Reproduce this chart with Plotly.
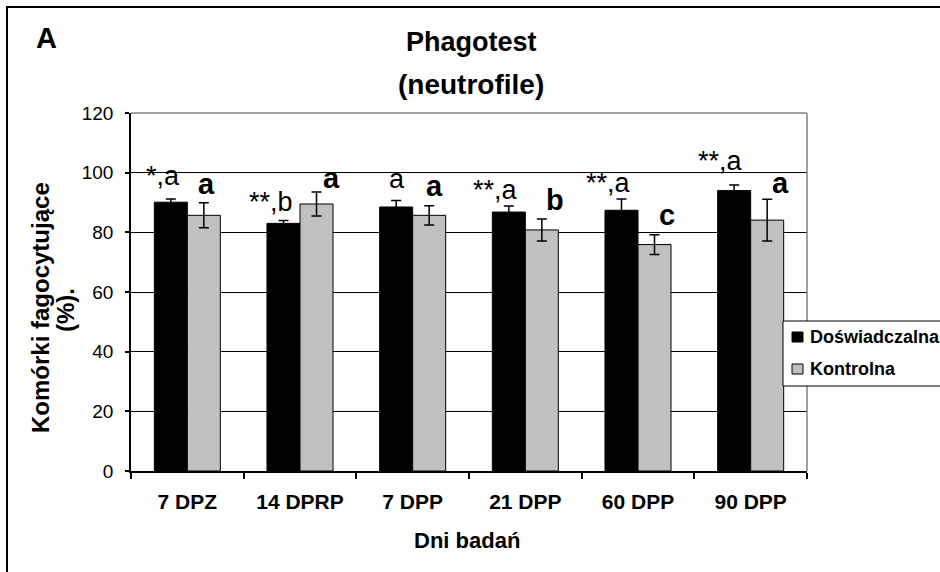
import plotly.graph_objects as go

# ---- data ----
categories = ["7 DPZ", "14 DPRP", "7 DPP", "21 DPP", "60 DPP", "90 DPP"]
exp_values = [90.1, 83.0, 88.5, 86.8, 87.4, 94.0]
exp_errors = [1.1, 1.0, 2.2, 2.0, 3.8, 1.9]
ctrl_values = [85.7, 89.5, 85.7, 80.8, 75.9, 84.1]
ctrl_errors = [4.2, 4.0, 3.2, 3.7, 3.3, 7.0]
exp_labels = ["*,a", "**,b", "a", "**,a", "**,a", "**,a"]
ctrl_labels = ["a", "a", "a", "b", "c", "a"]
y_ticks = [0, 20, 40, 60, 80, 100, 120]

# ---- layout tuning (pixels) ----
W, H = 940, 572
L, R, T, B = 131, 807, 113, 471
exp_label_dy = [5.8, 1.7, 4.7, -0.6, -0.7, 7.2]
ctrl_label_dx = [19, 31.5, 22, 29.5, 29, 29.5]
ctrl_label_dy = [0.5, -4.2, 1.5, 0.6, 1.4, -2.1]

FONT = "Liberation Sans, Arial, sans-serif"


def px(x):
    return (x - L) / (R - L)


def py(y):
    return (B - y) / (B - T)


fig = go.Figure()
fig.add_trace(go.Bar(
    x=categories, y=exp_values, name="Doświadczalna",
    marker=dict(color="#000000", line=dict(color="#000000", width=1)),
    error_y=dict(type="data", array=exp_errors, color="#000000", thickness=1.5, width=5),
    showlegend=False,
))
fig.add_trace(go.Bar(
    x=categories, y=ctrl_values, name="Kontrolna",
    marker=dict(color="#C0C0C0", line=dict(color="#000000", width=1)),
    error_y=dict(type="data", array=ctrl_errors, color="#000000", thickness=1.5, width=5),
    showlegend=False,
))

annotations = []
for i, c in enumerate(categories):
    annotations.append(dict(
        x=c, y=exp_values[i] + exp_errors[i], xref="x", yref="y",
        text=exp_labels[i], showarrow=False, xanchor="right", yanchor="bottom",
        xshift=-5.5, yshift=exp_label_dy[i],
        font=dict(family=FONT, size=27, color="#000000"),
    ))
    annotations.append(dict(
        x=c, y=ctrl_values[i] + ctrl_errors[i], xref="x", yref="y",
        text="<b>%s</b>" % ctrl_labels[i], showarrow=False, xanchor="center", yanchor="bottom",
        xshift=ctrl_label_dx[i], yshift=ctrl_label_dy[i],
        font=dict(family=FONT, size=29, color="#000000"),
    ))

# titles
annotations += [
    dict(x=px(471), y=py(42), xref="paper", yref="paper", text="<b>Phagotest</b>",
         showarrow=False, xanchor="center", yanchor="middle",
         font=dict(family=FONT, size=27, color="#000000")),
    dict(x=px(471), y=py(85), xref="paper", yref="paper", text="<b>(neutrofile)</b>",
         showarrow=False, xanchor="center", yanchor="middle",
         font=dict(family=FONT, size=28, color="#000000")),
    dict(x=px(46), y=py(38), xref="paper", yref="paper", text="<b>A</b>",
         showarrow=False, xanchor="center", yanchor="middle",
         font=dict(family=FONT, size=29, color="#000000")),
    dict(x=px(40), y=py(308), xref="paper", yref="paper",
         text="<b>Komórki fagocytujące</b>", textangle=-90,
         showarrow=False, xanchor="center", yanchor="middle",
         font=dict(family=FONT, size=24, color="#000000")),
    dict(x=px(65), y=py(310), xref="paper", yref="paper",
         text="<b>(%).</b>", textangle=-90,
         showarrow=False, xanchor="center", yanchor="middle",
         font=dict(family=FONT, size=24, color="#000000")),
    dict(x=px(467), y=py(540), xref="paper", yref="paper", text="<b>Dni badań</b>",
         showarrow=False, xanchor="center", yanchor="middle",
         font=dict(family=FONT, size=22, color="#000000")),
    dict(x=px(808), y=py(337), xref="paper", yref="paper", text="<b>Doświadczalna</b>",
         showarrow=False, xanchor="left", yanchor="middle",
         font=dict(family=FONT, size=18, color="#000000")),
    dict(x=px(808), y=py(369), xref="paper", yref="paper", text="<b>Kontrolna</b>",
         showarrow=False, xanchor="left", yanchor="middle",
         font=dict(family=FONT, size=18, color="#000000")),
]

shapes = [
    # outer frame
    dict(type="rect", xref="paper", yref="paper", x0=px(7), x1=px(980), y0=py(620), y1=py(7),
         line=dict(color="#000000", width=2), layer="below"),
    # plot area top/right border (gray)
    dict(type="line", xref="paper", yref="paper", x0=0, x1=1, y0=1, y1=1,
         line=dict(color="#808080", width=1.5)),
    dict(type="line", xref="paper", yref="paper", x0=1, x1=1, y0=0, y1=1,
         line=dict(color="#808080", width=1.5)),
    # legend box
    dict(type="rect", xref="paper", yref="paper", x0=px(783), x1=px(990), y0=py(386), y1=py(321),
         line=dict(color="#000000", width=1), fillcolor="#FFFFFF", layer="above"),
    dict(type="rect", xref="paper", yref="paper", x0=px(792), x1=px(803), y0=py(342), y1=py(332),
         line=dict(color="#000000", width=1), fillcolor="#000000", layer="above"),
    dict(type="rect", xref="paper", yref="paper", x0=px(792), x1=px(803), y0=py(374), y1=py(364),
         line=dict(color="#000000", width=1), fillcolor="#C0C0C0", layer="above"),
]

fig.update_layout(
    width=W, height=H,
    margin=dict(l=L, r=W - R, t=T, b=H - B, autoexpand=False),
    paper_bgcolor="#FFFFFF", plot_bgcolor="#FFFFFF",
    barmode="group", bargap=0.414, bargroupgap=0,
    showlegend=False,
    annotations=annotations, shapes=shapes,
    font=dict(family=FONT, color="#000000"),
)
fig.update_xaxes(
    type="category", showline=True, linecolor="#000000", linewidth=1.5,
    ticks="outside", tickson="boundaries", ticklen=6, tickcolor="#000000", tickwidth=1.5,
    tickfont=dict(family=FONT, size=21, color="#000000", weight="bold"),
    ticklabelstandoff=11, showgrid=False, zeroline=False,
)
fig.update_yaxes(
    range=[0, 120], tickvals=y_ticks, showline=True, linecolor="#000000", linewidth=1.5,
    ticks="outside", ticklen=4, tickcolor="#000000", tickwidth=1.5,
    tickfont=dict(family=FONT, size=19, color="#000000"), ticklabelstandoff=8,
    showgrid=True, gridcolor="#000000", gridwidth=1, zeroline=False,
)

fig.write_html("out.html")
